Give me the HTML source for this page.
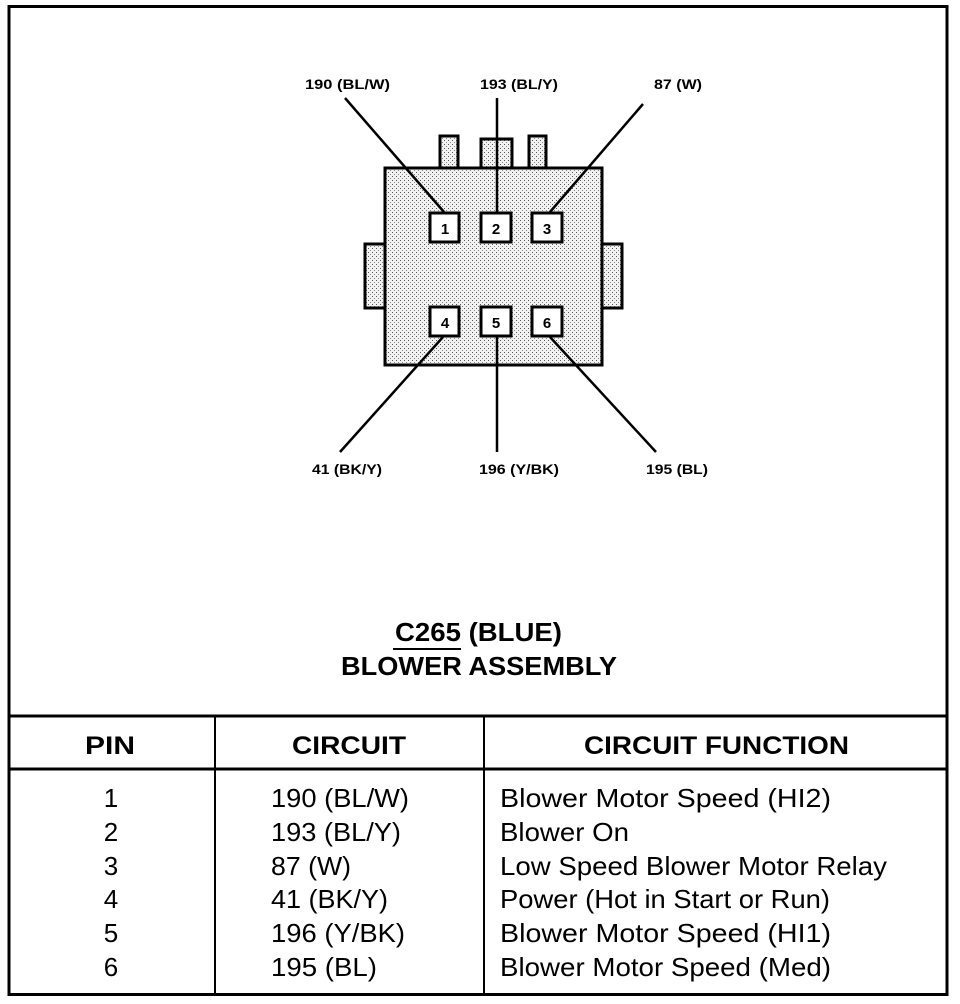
<!DOCTYPE html>
<html><head><style>
html,body{margin:0;padding:0;background:#fff;}
svg{display:block;}
text{font-family:"Liberation Sans",Arial,sans-serif;fill:#000;}
</style></head><body>
<svg width="960" height="1004" viewBox="0 0 960 1004" xmlns="http://www.w3.org/2000/svg">
<defs>
<pattern id="dots" width="4" height="4" patternUnits="userSpaceOnUse">
<rect width="4" height="4" fill="#f2f2f2"/>
<rect x="0" y="0" width="1" height="1" fill="#555"/>
<rect x="2" y="2" width="1" height="1" fill="#888"/>
</pattern>
</defs>
<rect x="9" y="6.5" width="938" height="988" fill="none" stroke="#000" stroke-width="3"/>
<line x1="9" y1="716" x2="947" y2="716" stroke="#000" stroke-width="3"/>
<line x1="9" y1="769" x2="947" y2="769" stroke="#000" stroke-width="3"/>
<line x1="215" y1="716" x2="215" y2="994" stroke="#000" stroke-width="2"/>
<line x1="484" y1="716" x2="484" y2="994" stroke="#000" stroke-width="2"/>

<g stroke="#000" stroke-width="3" fill="url(#dots)">
<rect x="440" y="136" width="18" height="32"/>
<rect x="481" y="139" width="31" height="29"/>
<rect x="529" y="136" width="17" height="32"/>
<rect x="365" y="244" width="20" height="64"/>
<rect x="602" y="244" width="20" height="64"/>
<rect x="385" y="168" width="217" height="197"/>
</g>
<g stroke="#000" stroke-width="3" fill="#fff">
<rect x="430" y="213" width="29" height="29"/>
<rect x="481" y="213" width="30" height="29"/>
<rect x="532" y="213" width="30" height="29"/>
<rect x="430" y="307" width="29" height="29"/>
<rect x="481" y="307" width="30" height="29"/>
<rect x="532" y="307" width="30" height="29"/>
</g>
<g font-size="15" font-weight="bold" text-anchor="middle">
<text x="445" y="234">1</text><text x="496" y="234">2</text><text x="547" y="234">3</text>
<text x="445" y="328">4</text><text x="496" y="328">5</text><text x="547" y="328">6</text>
</g>
<g stroke="#000" stroke-width="2.5">
<line x1="444" y1="212" x2="345" y2="98"/>
<line x1="497" y1="212" x2="497" y2="98"/>
<line x1="550" y1="212" x2="643" y2="104"/>
<line x1="443" y1="337" x2="340" y2="452"/>
<line x1="497" y1="337" x2="497" y2="452"/>
<line x1="550" y1="337" x2="656" y2="452"/>
</g>
<g font-size="14" font-weight="bold" lengthAdjust="spacingAndGlyphs">
<text x="305" y="89" textLength="85" lengthAdjust="spacingAndGlyphs">190 (BL/W)</text>
<text x="480" y="89" textLength="78" lengthAdjust="spacingAndGlyphs">193 (BL/Y)</text>
<text x="654" y="89" textLength="48" lengthAdjust="spacingAndGlyphs">87 (W)</text>
<text x="312" y="474" textLength="70" lengthAdjust="spacingAndGlyphs">41 (BK/Y)</text>
<text x="479" y="474" textLength="80" lengthAdjust="spacingAndGlyphs">196 (Y/BK)</text>
<text x="646" y="474" textLength="62" lengthAdjust="spacingAndGlyphs">195 (BL)</text>
</g>
<g font-size="26" font-weight="bold">
<text x="395" y="641" textLength="167" lengthAdjust="spacingAndGlyphs">C265 (BLUE)</text>
<text x="341" y="675" textLength="276" lengthAdjust="spacingAndGlyphs">BLOWER ASSEMBLY</text>
</g>
<line x1="393" y1="649" x2="461" y2="649" stroke="#000" stroke-width="2"/>
<g font-size="25" font-weight="bold">
<text x="85" y="754" textLength="50" lengthAdjust="spacingAndGlyphs">PIN</text>
<text x="292" y="754" textLength="114" lengthAdjust="spacingAndGlyphs">CIRCUIT</text>
<text x="584" y="754" textLength="265" lengthAdjust="spacingAndGlyphs">CIRCUIT FUNCTION</text>
</g>
<g font-size="26">
<text x="111" y="807" text-anchor="middle">1</text>
<text x="111" y="841" text-anchor="middle">2</text>
<text x="111" y="875" text-anchor="middle">3</text>
<text x="111" y="908" text-anchor="middle">4</text>
<text x="111" y="942" text-anchor="middle">5</text>
<text x="111" y="976" text-anchor="middle">6</text>
<text x="271" y="807" textLength="138" lengthAdjust="spacingAndGlyphs">190 (BL/W)</text>
<text x="271" y="841" textLength="130" lengthAdjust="spacingAndGlyphs">193 (BL/Y)</text>
<text x="271" y="875" textLength="80" lengthAdjust="spacingAndGlyphs">87 (W)</text>
<text x="271" y="908" textLength="117" lengthAdjust="spacingAndGlyphs">41 (BK/Y)</text>
<text x="271" y="942" textLength="134" lengthAdjust="spacingAndGlyphs">196 (Y/BK)</text>
<text x="271" y="976" textLength="106" lengthAdjust="spacingAndGlyphs">195 (BL)</text>
<text x="500" y="807" textLength="331" lengthAdjust="spacingAndGlyphs">Blower Motor Speed (HI2)</text>
<text x="500" y="841" textLength="129" lengthAdjust="spacingAndGlyphs">Blower On</text>
<text x="500" y="875" textLength="387" lengthAdjust="spacingAndGlyphs">Low Speed Blower Motor Relay</text>
<text x="500" y="908" textLength="330" lengthAdjust="spacingAndGlyphs">Power (Hot in Start or Run)</text>
<text x="500" y="942" textLength="331" lengthAdjust="spacingAndGlyphs">Blower Motor Speed (HI1)</text>
<text x="500" y="976" textLength="331" lengthAdjust="spacingAndGlyphs">Blower Motor Speed (Med)</text>
</g>
</svg>
</body></html>
